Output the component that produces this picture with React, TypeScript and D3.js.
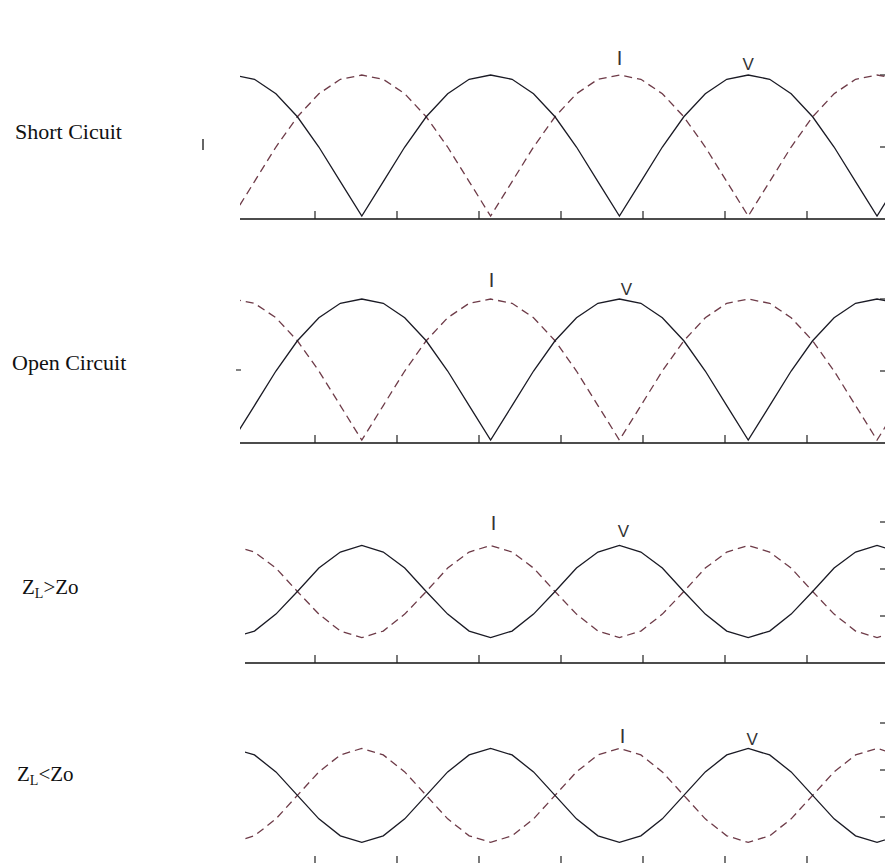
import React from 'react';
import * as d3 from 'd3';

// x grid in radians (beta*z), sampled every 15 degrees
const xGrid = d3.range(0, 32).map((k) => (k * Math.PI) / 12);
const xTicks = [1, 2, 3, 4, 5, 6, 7];

// Short circuit
const scV = [1, .97, .87, .71, .5, .26, .02, .26, .5, .71, .87, .97, 1, .97, .87, .71, .5, .26, .02, .26, .5, .71, .87, .97, 1, .97, .87, .71, .5, .26, .02, .26];
const scI = [.02, .26, .5, .71, .87, .97, 1, .97, .87, .71, .5, .26, .02, .26, .5, .71, .87, .97, 1, .97, .87, .71, .5, .26, .02, .26, .5, .71, .87, .97, 1, .97];
// Open circuit
const ocV = [.02, .26, .5, .71, .87, .97, 1, .97, .87, .71, .5, .26, .02, .26, .5, .71, .87, .97, 1, .97, .87, .71, .5, .26, .02, .26, .5, .71, .87, .97, 1, .97];
const ocI = [1, .97, .87, .71, .5, .26, .02, .26, .5, .71, .87, .97, 1, .97, .87, .71, .5, .26, .02, .26, .5, .71, .87, .97, 1, .97, .87, .71, .5, .26, .02, .26];
// ZL > Zo
const gtV = [.27, .34, .52, .76, 1.01, 1.18, 1.25, 1.18, 1.01, .76, .52, .34, .27, .34, .52, .76, 1.01, 1.18, 1.25, 1.18, 1.01, .76, .52, .34, .27, .34, .52, .76, 1.01, 1.18, 1.25, 1.18];
const gtI = [1.25, 1.18, 1.01, .76, .52, .34, .27, .34, .52, .76, 1.01, 1.18, 1.25, 1.18, 1.01, .76, .52, .34, .27, .34, .52, .76, 1.01, 1.18, 1.25, 1.18, 1.01, .76, .52, .34, .27, .34];
// ZL < Zo
const ltV = [1.23, 1.16, .98, .73, .48, .30, .23, .30, .48, .73, .98, 1.16, 1.23, 1.16, .98, .73, .48, .30, .23, .30, .48, .73, .98, 1.16, 1.23, 1.16, .98, .73, .48, .30, .23, .30];
const ltI = [.23, .30, .48, .73, .98, 1.16, 1.23, 1.16, .98, .73, .48, .30, .23, .30, .48, .73, .98, 1.16, 1.23, 1.16, .98, .73, .48, .30, .23, .30, .48, .73, .98, 1.16, 1.23, 1.16];

// label positions in data units: [x of I, x of V]
const labelX = [
  [3 * Math.PI / 2, 2 * Math.PI],
  [Math.PI, 3 * Math.PI / 2],
  [Math.PI, 3 * Math.PI / 2],
  [3 * Math.PI / 2, 2 * Math.PI],
];

const panels = [
  { name: 'Short Cicuit', v: scV, i: scI, yMax: 1, yTicks: [0.5, 1], top: 75, bottom: 219, x0: 240, labelY: 139, labelX: 15, iY: 65, vY: 70, iDx: 0, vDx: 0 },
  { name: 'Open Circuit', v: ocV, i: ocI, yMax: 1, yTicks: [0.5, 1], top: 299, bottom: 443, x0: 240, labelY: 370, labelX: 12, iY: 287, vY: 295, iDx: 1, vDx: 7 },
  { name: 'Z|L|>Zo', v: gtV, i: gtI, yMax: 1.5, yTicks: [0.5, 1, 1.5], top: 522, bottom: 663, x0: 245, labelY: 594, labelX: 22, iY: 530, vY: 537, iDx: 3, vDx: 4 },
  { name: 'Z|L|<Zo', v: ltV, i: ltI, yMax: 1.5, yTicks: [0.5, 1, 1.5], top: 723, bottom: 864, x0: 245, labelY: 781, labelX: 17, iY: 743, vY: 745, iDx: 3, vDx: 4 },
];

const W = 885;
const H = 863;
const xRight = 885;

export default function App() {
  const x = d3.scaleLinear().domain([1, 7]).range([315, 807]);
  const serif = '"Liberation Serif", "Times New Roman", serif';
  const sans = '"Liberation Sans", Arial, sans-serif';
  return (
    <svg width={W} height={H} style={{ position: 'absolute', left: 0, top: 0, background: '#fff' }}>
      {panels.map((p, pi) => {
        const y = d3.scaleLinear().domain([0, p.yMax]).range([p.bottom, p.top]);
        const line = d3
          .line<number>()
          .x((_, k) => x(xGrid[k]))
          .y((d) => y(d))
          .curve(d3.curveLinear);
        const clipId = `clip${pi}`;
        const parts = p.name.split('|');
        return (
          <g key={pi}>
            <defs>
              <clipPath id={clipId}>
                <rect x={p.x0} y={p.top - 10} width={xRight - p.x0} height={p.bottom - p.top + 20} />
              </clipPath>
            </defs>
            <text x={p.labelX} y={p.labelY} fontFamily={serif} fontSize={p.labelX < 20 && parts.length === 1 ? 22 : 21} fill="#111">
              {parts.length === 1 ? (
                p.name
              ) : (
                <>
                  <tspan>{parts[0]}</tspan>
                  <tspan fontSize={14} dy={4}>{parts[1]}</tspan>
                  <tspan dy={-4}>{parts[2]}</tspan>
                </>
              )}
            </text>
            <line x1={p.x0} x2={xRight} y1={p.bottom} y2={p.bottom} stroke="#111" strokeWidth={1.6} />
            {xTicks.map((t) => (
              <line key={t} x1={x(t)} x2={x(t)} y1={p.bottom} y2={p.bottom - 8} stroke="#222" strokeWidth={1.2} />
            ))}
            {p.yTicks.map((t) => (
              <line key={t} x1={xRight - 5} x2={xRight} y1={y(t)} y2={y(t)} stroke="#222" strokeWidth={1.2} />
            ))}
            <g clipPath={`url(#${clipId})`}>
              <path d={line(p.i) || ''} fill="none" stroke="#6e3b48" strokeWidth={1.3} strokeDasharray="8,5" />
              <path d={line(p.v) || ''} fill="none" stroke="#1a1a24" strokeWidth={1.3} />
            </g>
            <text x={x(labelX[pi][0]) + p.iDx} y={p.iY} textAnchor="middle" fontFamily={sans} fontSize={20} fill="#333">I</text>
            <text x={x(labelX[pi][1]) + p.vDx} y={p.vY} textAnchor="middle" fontFamily={sans} fontSize={17} fill="#333">V</text>
          </g>
        );
      })}
      <line x1={203} x2={203} y1={139} y2={150} stroke="#333" strokeWidth={1.5} />
      <line x1={236} x2={241} y1={370} y2={370} stroke="#333" strokeWidth={1.2} />
    </svg>
  );
}
